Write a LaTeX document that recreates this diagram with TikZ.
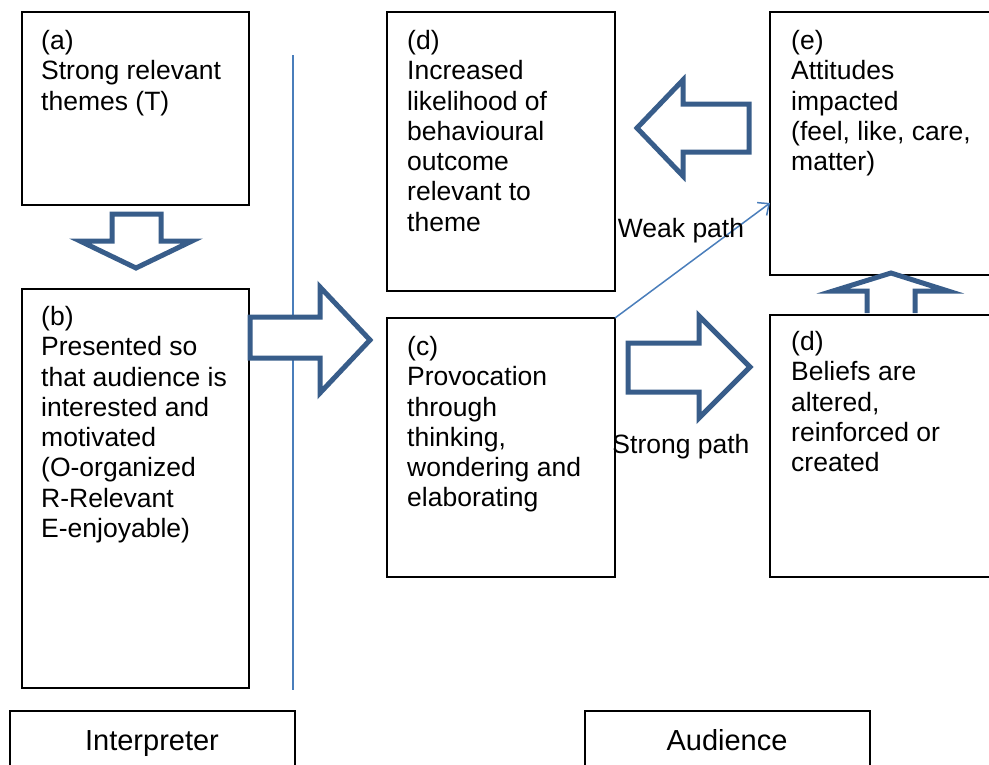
\documentclass[tikz,border=0pt]{standalone}
\usepackage{fontspec}
\setmainfont{Liberation Sans}
\usetikzlibrary{arrows.meta}
\definecolor{arrowblue}{RGB}{56,93,138}
\definecolor{lineblue}{RGB}{74,126,187}
\begin{document}
\begin{tikzpicture}[x=1pt,y=-1pt,
  box/.style={draw=black,line width=1.2pt,inner sep=0pt,outer sep=0pt,rectangle,anchor=north west},
  txt/.style={anchor=north west,inner sep=0pt,align=left,font=\fontsize{26.5}{30.3}\selectfont},
  lbl/.style={inner sep=0pt,anchor=base,font=\fontsize{26.5}{30.3}\selectfont},
  role/.style={inner sep=0pt,anchor=base,font=\fontsize{29}{33}\selectfont},
  blk/.style={draw=arrowblue,line width=5pt,line join=miter,fill=white},
  thinline/.style={draw=lineblue,line width=1.5pt}]
\useasboundingbox (0,0) rectangle (989,764);
\clip (0,0) rectangle (989,764);
% boxes
\node[box,minimum width=227pt,minimum height=193pt] (a) at (22,12) {};
\node[box,minimum width=227pt,minimum height=399pt] (b) at (22,289) {};
\node[box,minimum width=228pt,minimum height=279pt] (d) at (387,12) {};
\node[box,minimum width=228pt,minimum height=259pt] (c) at (387,318) {};
\node[box,minimum width=240pt,minimum height=263pt] (e) at (770,12) {};
\node[box,minimum width=240pt,minimum height=262pt] (f) at (770,315) {};
\node[box,minimum width=285pt,minimum height=80pt] (ib) at (10,711) {};
\node[box,minimum width=285pt,minimum height=80pt] (ab) at (585,711) {};
% texts
\node[txt] (ta) at (41,30) {(a)\\Strong relevant\\themes (T)};
\node[txt] (tb) at (41,306) {(b)\\Presented so\\that audience is\\interested and\\motivated\\(O-organized\\R-Relevant\\E-enjoyable)};
\node[txt] (td) at (407,30) {(d)\\Increased\\likelihood of\\behavioural\\outcome\\relevant to\\theme};
\node[txt] (tc) at (407,336) {(c)\\Provocation\\through\\thinking,\\wondering and\\elaborating};
\node[txt] (te) at (791,30) {(e)\\Attitudes\\impacted\\(feel, like, care,\\matter)};
\node[txt] (tf) at (791,331) {(d)\\Beliefs are\\altered,\\reinforced or\\created};
\node[role] (ti) at (152,750) {Interpreter};
\node[role] (tau) at (727,750) {Audience};
% divider
\coordinate (vtop) at (293,55);
\coordinate (vbot) at (293,690);
\draw[thinline] (vtop) -- (vbot);
% block arrows
\draw[blk] (112,214) -- (161,214) -- (161,241) -- (192,241) -- (136,268) -- (80,241) -- (112,241) -- cycle;
\draw[blk] (250,317) -- (320,317) -- (320,287) -- (370,340) -- (320,393) -- (320,358) -- (250,358) -- cycle;
\draw[blk] (749,104) -- (683,104) -- (683,80) -- (637,128) -- (683,176) -- (683,152) -- (749,152) -- cycle;
\draw[blk] (628,343) -- (699,343) -- (699,316) -- (750,367) -- (699,418) -- (699,392) -- (628,392) -- cycle;
\draw[blk] (867,313) -- (867,291) -- (833,291) -- (891,273) -- (948,291) -- (915,291) -- (915,313);
% weak path
\coordinate (wend) at (770,203);
\draw[thinline,-{Straight Barb[length=9pt,width=16pt,line width=1.5pt]}] (c.north east) -- (wend);
\node[lbl] (wl) at (681,237) {Weak path};
\node[lbl] (sl) at (681,453) {Strong path};
\end{tikzpicture}
\end{document}
